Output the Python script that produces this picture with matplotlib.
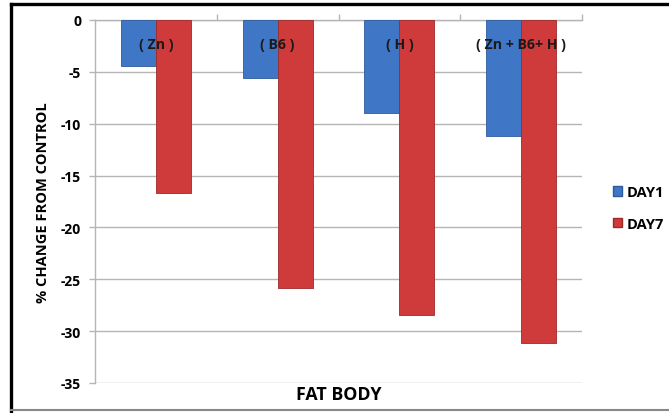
import matplotlib
matplotlib.use("Agg")
import matplotlib.pyplot as plt
from matplotlib.lines import Line2D
from matplotlib.patches import Patch
import numpy as np

plt.rcParams['font.family'] = ['Open Sans', 'DejaVu Sans']

categories = ["( Zn )", "( B6 )", "( H )", "( Zn + B6+ H )"]
day1 = [-4.4, -5.6, -9.0, -11.2]
day7 = [-16.7, -25.8, -28.4, -31.1]
series_names = ["DAY1", "DAY7"]
yticks = [0, -5, -10, -15, -20, -25, -30, -35]

blue = "#3f76c6"
red = "#cf3a3a"

fig = plt.figure(figsize=(6.69, 4.14), dpi=100)
ax = fig.add_axes([95/669, 1-384/414, (582-95)/669, (384-21)/414])

x = np.arange(len(categories))
w = 0.2875
ax.bar(x - w/2, day1, w, color=blue, edgecolor="#2d5a9c", linewidth=0.6, label=series_names[0], zorder=3)
ax.bar(x + w/2, day7, w, color=red, edgecolor="#9c2a2a", linewidth=0.6, label=series_names[1], zorder=3)

for xi, lab in zip(x, categories):
    ax.text(xi, -2.3, lab, ha="center", va="center", fontsize=10.2, fontweight="bold", color="#1a1a1a", zorder=4)

ax.set_ylim(-35, 0)
ax.set_xlim(-0.5, 3.5)
ax.set_yticks(yticks)
ax.set_yticklabels([str(v) for v in yticks], fontsize=10, fontweight="bold")
ax.yaxis.grid(True, color="#b5b5b5", linewidth=1, zorder=0)
ax.set_axisbelow(True)

ax.set_xticks(np.arange(0.5, 4.0, 1.0))
ax.set_xticklabels([])
ax.xaxis.set_ticks_position("top")
ax.tick_params(axis="x", direction="out", length=4, color="#b5b5b5", width=1)
ax.tick_params(axis="y", direction="out", length=4, color="#b5b5b5", width=1, pad=6)

for s in ["right", "bottom"]:
    ax.spines[s].set_visible(False)
for s in ["left", "top"]:
    ax.spines[s].set_color("#b5b5b5")
    ax.spines[s].set_linewidth(1)

ax.set_ylabel("% CHANGE FROM CONTROL", fontsize=10.5, fontweight="bold", labelpad=8)
fig.text(339/669, 1-395/414, "FAT BODY", ha="center", va="center", fontsize=12.8, fontweight="bold")

handles = [Patch(facecolor=blue, edgecolor="#2d5a9c"), Patch(facecolor=red, edgecolor="#9c2a2a")]
fig.legend(handles, series_names, loc="center left", bbox_to_anchor=(600/669, 1-209/414),
           frameon=False, handlelength=0.6, handleheight=0.6, handletextpad=0.3,
           labelspacing=1.2, prop={"size": 10.5, "weight": "bold"})

# outer frame
fig.add_artist(Line2D([11/669, 1], [1-5/414, 1-5/414], color="black", linewidth=2.4, transform=fig.transFigure))
fig.add_artist(Line2D([11/669, 11/669], [0, 1-5/414], color="black", linewidth=2.4, transform=fig.transFigure))
fig.add_artist(Line2D([11/669, 1], [1-410.5/414, 1-410.5/414], color="#888888", linewidth=1.5, transform=fig.transFigure))

fig.savefig("out.png", dpi=100)
